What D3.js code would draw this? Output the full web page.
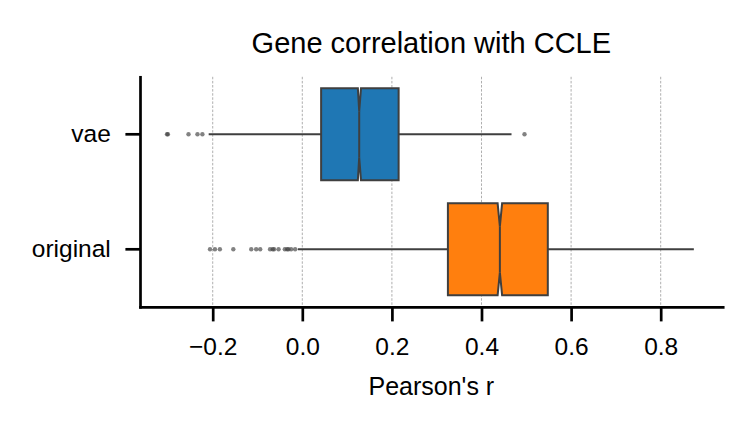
<!DOCTYPE html>
<html>
<head>
<meta charset="utf-8">
<script src="https://cdn.jsdelivr.net/npm/d3@7"></script>
<style>
  html, body { margin: 0; padding: 0; background: #fff; }
  svg { display: block; font-family: "Liberation Sans", Arial, sans-serif; }
</style>
</head>
<body>
<svg id="chart" width="751" height="429"></svg>
<script>
// ---- data ----
const categories = ["vae", "original"];
const colors = ["#1f77b4", "#ff7f0e"];
const q1 = [0.042, 0.325];
const median = [0.127, 0.441];
const q3 = [0.215, 0.548];
const notchLo = [0.124, 0.436];
const notchHi = [0.131, 0.446];
const whiskerLo = [-0.209, -0.010];
const whiskerHi = [0.467, 0.874];
const outliersVae = [-0.302, -0.300, -0.254, -0.234, -0.223, 0.496];
const outliersOriginal = [-0.206, -0.195, -0.184, -0.154, -0.114, -0.103, -0.094,
  -0.072, -0.066, -0.063, -0.053, -0.039, -0.034, -0.031, -0.025, -0.016];
const outliers = [outliersVae, outliersOriginal];
const xTicks = [-0.2, 0.0, 0.2, 0.4, 0.6, 0.8];
const titleText = "Gene correlation with CCLE";
const xLabel = "Pearson's r";

// ---- layout ----
const svg = d3.select("#chart");
const mLeft = 140, mRight = 722.7, mTop = 76.8, mBottom = 306.8;
const edge = "#3f3f3f";

const x = d3.scaleLinear().domain([-0.3623, 0.9384]).range([mLeft, mRight]);
const y = d3.scaleBand().domain(categories).range([mTop, mBottom]).paddingInner(0).paddingOuter(0);
const bw = y.bandwidth();
const boxH = bw * 0.8;

// gridlines
svg.append("g").selectAll("line").data(xTicks).join("line")
  .attr("x1", d => x(d)).attr("x2", d => x(d))
  .attr("y1", mTop).attr("y2", mBottom)
  .attr("stroke", "#9a9a9a").attr("stroke-width", 0.8)
  .attr("stroke-dasharray", "2.5,1.6");

const data = categories.map((c, i) => ({
  cat: c, color: colors[i], q1: q1[i], med: median[i], q3: q3[i],
  nlo: notchLo[i], nhi: notchHi[i], wlo: whiskerLo[i], whi: whiskerHi[i], out: outliers[i]
}));

const g = svg.append("g");
data.forEach(d => {
  const cy = y(d.cat) + bw / 2;
  const t = cy - boxH / 2, b = cy + boxH / 2;
  // whiskers
  g.append("line").attr("x1", x(d.wlo)).attr("x2", x(d.q1)).attr("y1", cy).attr("y2", cy)
    .attr("stroke", edge).attr("stroke-width", 2);
  g.append("line").attr("x1", x(d.q3)).attr("x2", x(d.whi)).attr("y1", cy).attr("y2", cy)
    .attr("stroke", edge).attr("stroke-width", 2);
  // notched box
  const pts = [
    [x(d.q1), t], [x(d.nlo), t], [x(d.med), cy - boxH / 4], [x(d.nhi), t], [x(d.q3), t],
    [x(d.q3), b], [x(d.nhi), b], [x(d.med), cy + boxH / 4], [x(d.nlo), b], [x(d.q1), b]
  ];
  g.append("path").attr("d", d3.line()(pts) + "Z")
    .attr("fill", d.color).attr("stroke", edge).attr("stroke-width", 2)
    .attr("stroke-linejoin", "miter");
  // median
  g.append("line").attr("x1", x(d.med)).attr("x2", x(d.med))
    .attr("y1", cy - boxH / 4).attr("y2", cy + boxH / 4)
    .attr("stroke", edge).attr("stroke-width", 2);
  // fliers
  g.selectAll(null).data(d.out).join("circle")
    .attr("cx", v => x(v)).attr("cy", cy).attr("r", 2.2)
    .attr("fill", edge).attr("fill-opacity", 0.65);
});

// axes
const fmt = d3.format(".1f");
const xAxis = d3.axisBottom(x).tickValues(xTicks).tickFormat(fmt)
  .tickSize(14.6).tickPadding(16).tickSizeOuter(0);
const gx = svg.append("g").attr("transform", `translate(0,${mBottom})`).call(xAxis);
const yAxis = d3.axisLeft(y).tickSize(14.6).tickPadding(14.6).tickSizeOuter(0);
const gy = svg.append("g").attr("transform", `translate(${mLeft},0)`).call(yAxis);

[gx, gy].forEach(a => {
  a.selectAll("path.domain").attr("stroke", "#000").attr("stroke-width", 2.7);
  a.selectAll(".tick line").attr("stroke", "#000").attr("stroke-width", 2.7);
  a.selectAll(".tick text").attr("fill", "#000").style("font-size", "24.5px")
    .style("font-family", "'Liberation Sans', Arial, sans-serif");
});
gx.select("path.domain").attr("stroke-linecap", "square");
gy.select("path.domain").attr("stroke-linecap", "square");

// title & label
svg.append("text").attr("x", (mLeft + mRight) / 2).attr("y", 53)
  .attr("text-anchor", "middle").style("font-size", "29px").attr("fill", "#000")
  .text(titleText);
svg.append("text").attr("x", (mLeft + mRight) / 2).attr("y", 395)
  .attr("text-anchor", "middle").style("font-size", "25px").attr("fill", "#000")
  .text(xLabel);
</script>
</body>
</html>
